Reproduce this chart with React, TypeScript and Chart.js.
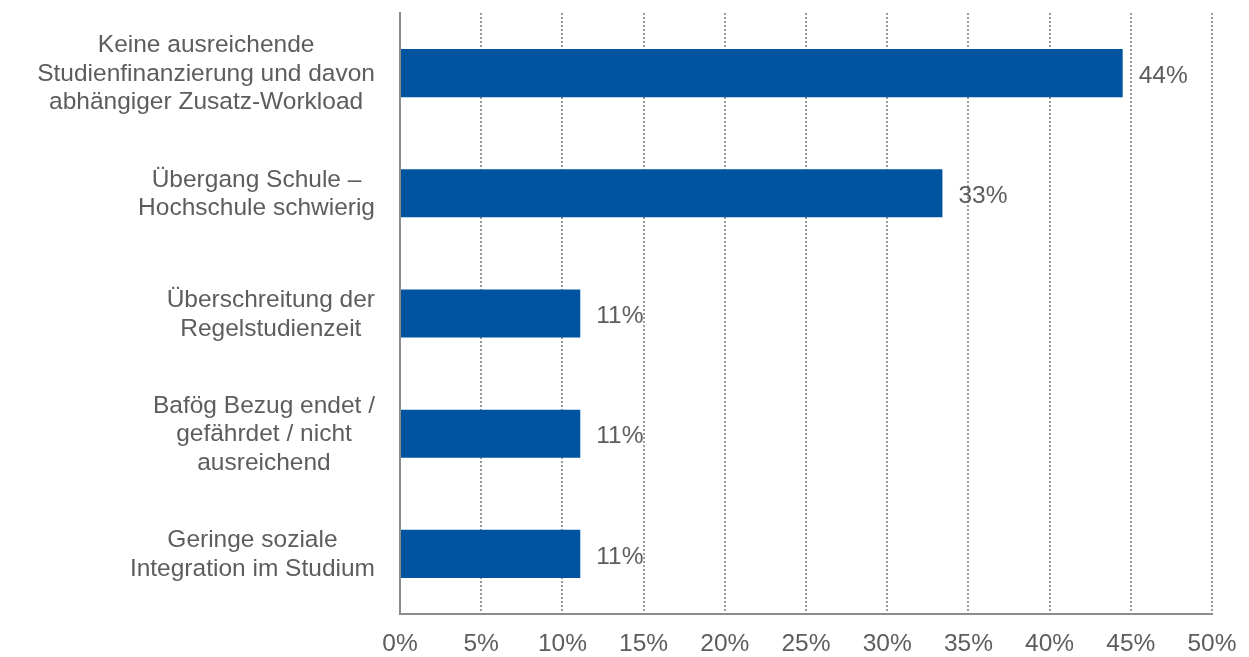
import React, { useEffect, useRef } from "react";
import { Chart, registerables } from "chart.js";

Chart.register(...registerables);

const categories: string[][] = [
  ["Keine ausreichende", "Studienfinanzierung und davon", "abhängiger Zusatz-Workload"],
  ["Übergang Schule –", "Hochschule schwierig"],
  ["Überschreitung der", "Regelstudienzeit"],
  ["Bafög Bezug endet /", "gefährdet / nicht", "ausreichend"],
  ["Geringe soziale", "Integration im Studium"],
];
const values: number[] = [44.5, 33.4, 11.1, 11.1, 11.1];
const valueLabels: string[] = ["44%", "33%", "11%", "11%", "11%"];
const xMin = 0;
const xMax = 50;
const xStep = 5;

const TEXT = "#5d5d5d";
const FONT = "'Liberation Sans', Arial, sans-serif";
const FONT_SIZE = 24.5;

const labelPlugin = {
  id: "customLabels",
  afterDatasetsDraw(chart: any) {
    const ctx = chart.ctx;
    const y = chart.scales.y;
    const area = chart.chartArea;
    ctx.save();
    ctx.fillStyle = TEXT;
    ctx.font = `${FONT_SIZE}px ${FONT}`;
    ctx.textBaseline = "middle";
    const lineH = 28.5;
    const rightEdge = area.left - 25;
    categories.forEach((lines, i) => {
      const cy = y.getPixelForValue(i);
      const maxW = Math.max(...lines.map((l) => ctx.measureText(l).width));
      const cx = rightEdge - maxW / 2;
      const top = cy - ((lines.length - 1) * lineH) / 2 + 1;
      ctx.textAlign = "center";
      lines.forEach((l, j) => ctx.fillText(l, cx, top + j * lineH));
    });
    const meta = chart.getDatasetMeta(0);
    meta.data.forEach((bar: any, i: number) => {
      ctx.textAlign = "left";
      ctx.fillText(valueLabels[i], bar.x + 16, bar.y + 3);
    });
    ctx.restore();
  },
};

export default function App() {
  const ref = useRef<HTMLCanvasElement>(null);
  useEffect(() => {
    if (!ref.current) return;
    const chart = new Chart(ref.current, {
      type: "bar",
      data: {
        labels: categories.map((c) => c.join(" ")),
        datasets: [
          {
            data: values,
            backgroundColor: "#00549F",
            borderWidth: 0,
            categoryPercentage: 0.8,
            barPercentage: 0.5,
          },
        ],
      },
      options: {
        indexAxis: "y",
        animation: false,
        responsive: true,
        maintainAspectRatio: false,
        layout: { padding: { left: 400, right: 37, top: 13, bottom: 0 } },
        plugins: { legend: { display: false }, tooltip: { enabled: false } },
        scales: {
          x: {
            min: xMin,
            max: xMax,
            afterFit: (scale: any) => {
              scale.height = 43;
              scale.paddingLeft = 0;
              scale.paddingRight = 0;
            },
            ticks: {
              stepSize: xStep,
              color: TEXT,
              font: { size: FONT_SIZE, family: FONT },
              padding: 16,
              maxRotation: 0,
              callback: (v: any) => `${v}%`,
            },
            grid: { color: "#9a9a9a", lineWidth: 2, drawTicks: false },
            border: { display: true, color: "#8c8c8c", width: 2, dash: [2, 2] },
          },
          y: {
            ticks: { display: false },
            grid: { display: false, drawTicks: false },
            border: { display: true, color: "#8c8c8c", width: 2 },
          },
        },
      },
      plugins: [labelPlugin],
    });
    return () => chart.destroy();
  }, []);
  return (
    <div style={{ position: "fixed", left: 0, top: 0, width: 1249, height: 657, background: "#fff" }}>
      <canvas ref={ref} />
    </div>
  );
}
